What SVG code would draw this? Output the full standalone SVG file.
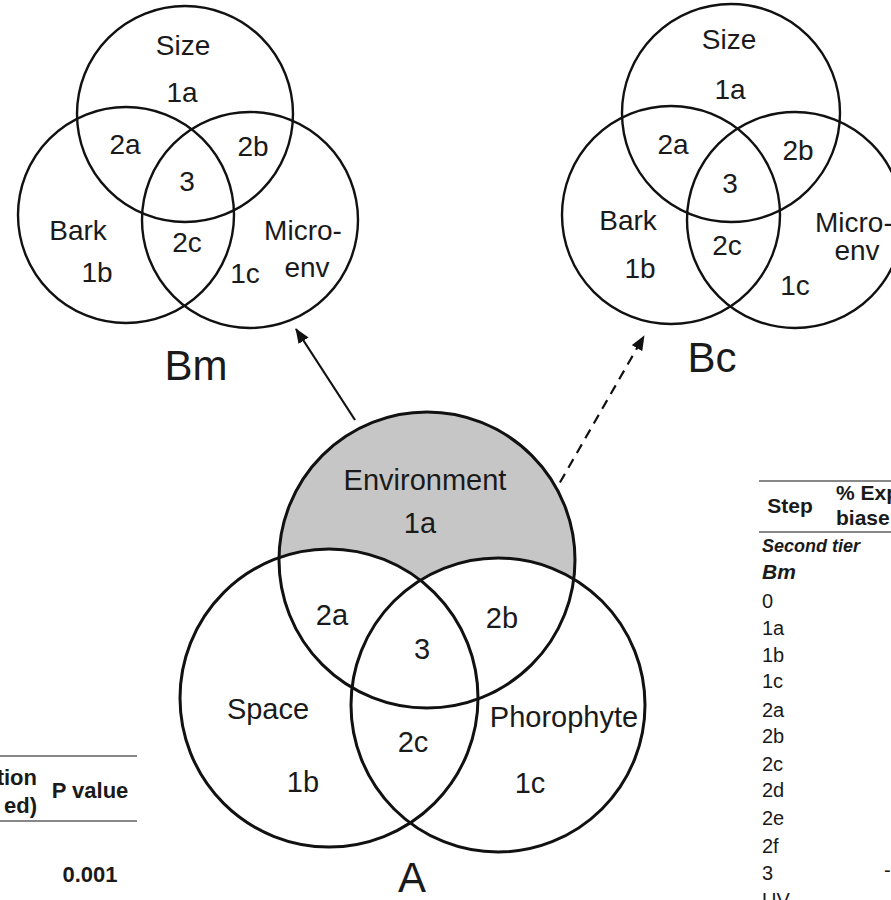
<svg xmlns="http://www.w3.org/2000/svg" width="891" height="900" viewBox="0 0 891 900">
<defs>
<style>
text{font-family:"Liberation Sans",Arial,sans-serif;fill:#1a1a1a}
.v{font-size:28px;text-anchor:middle}
.va{font-size:29px;text-anchor:middle}
.ring{fill:none;stroke:#111;stroke-width:2.4}
.ringA{fill:none;stroke:#111;stroke-width:3}
.big{font-size:42px;text-anchor:middle}
.th{font-size:22px;font-weight:bold}
.td{font-size:20px}
.rule{stroke:#888;stroke-width:2}
.conn{stroke:#111;stroke-width:2.2;fill:none}
</style>
<marker id="ah" markerUnits="userSpaceOnUse" markerWidth="16" markerHeight="12" refX="14" refY="6" orient="auto">
<path d="M0,0 L15,6 L0,12 z" fill="#111"/>
</marker>
</defs>

<g id="venn-Bm">
<circle class="ring" cx="185" cy="114" r="108"/>
<circle class="ring" cx="126" cy="215" r="108"/>
<circle class="ring" cx="250" cy="220" r="108"/>
<text class="v" x="183" y="55">Size</text>
<text class="v" x="182" y="102">1a</text>
<text class="v" x="125" y="154">2a</text>
<text class="v" x="253" y="156">2b</text>
<text class="v" x="187" y="191">3</text>
<text class="v" x="78" y="240">Bark</text>
<text class="v" x="187" y="252">2c</text>
<text class="v" x="97" y="282">1b</text>
<text class="v" x="245" y="283">1c</text>
<text class="v" x="303" y="240">Micro-</text>
<text class="v" x="307" y="277">env</text>
<text class="big" x="196" y="380">Bm</text>
</g>

<g id="venn-Bc">
<circle class="ring" cx="731" cy="113" r="109"/>
<circle class="ring" cx="671" cy="215" r="109"/>
<circle class="ring" cx="795" cy="220" r="108"/>
<text class="v" x="729" y="49">Size</text>
<text class="v" x="730" y="99">1a</text>
<text class="v" x="673" y="154">2a</text>
<text class="v" x="798" y="160">2b</text>
<text class="v" x="730" y="193">3</text>
<text class="v" x="628" y="230">Bark</text>
<text class="v" x="727" y="255">2c</text>
<text class="v" x="640" y="278">1b</text>
<text class="v" x="815" y="232" style="text-anchor:start">Micro-</text>
<text class="v" x="857" y="260">env</text>
<text class="v" x="795" y="295">1c</text>
<text class="big" x="712" y="372">Bc</text>
</g>

<g id="connectors">
<line class="conn" x1="355" y1="420" x2="296" y2="329" marker-end="url(#ah)"/>
<line class="conn" x1="543" y1="512" x2="644" y2="336" stroke-dasharray="10,7" marker-end="url(#ah)"/>
</g>

<g id="venn-A">
<circle cx="427" cy="560" r="148" fill="#c6c6c6"/>
<circle cx="329" cy="698" r="149" fill="#fff"/>
<circle cx="498" cy="705" r="147" fill="#fff"/>
<circle class="ringA" cx="427" cy="560" r="148"/>
<circle class="ringA" cx="329" cy="698" r="149"/>
<circle class="ringA" cx="498" cy="705" r="147"/>
<text class="va" x="425" y="490">Environment</text>
<text class="va" x="420" y="533">1a</text>
<text class="va" x="332" y="625">2a</text>
<text class="va" x="502" y="628">2b</text>
<text class="va" x="422" y="659">3</text>
<text class="va" x="268" y="719">Space</text>
<text class="va" x="564" y="727">Phorophyte</text>
<text class="va" x="413" y="752">2c</text>
<text class="va" x="303" y="792">1b</text>
<text class="va" x="530" y="793">1c</text>
<text class="big" x="412" y="892">A</text>
</g>

<g id="table-left">
<line class="rule" x1="0" y1="756" x2="137" y2="756"/>
<line class="rule" x1="0" y1="821" x2="137" y2="821"/>
<text class="th" x="37" y="785" text-anchor="end">tion</text>
<text class="th" x="37" y="813" text-anchor="end">ed)</text>
<text class="th" x="90" y="798" text-anchor="middle">P value</text>
<text class="th" x="90" y="882" text-anchor="middle">0.001</text>
</g>

<g id="table-right">
<line class="rule" x1="759" y1="481" x2="891" y2="481"/>
<line class="rule" x1="759" y1="532" x2="891" y2="532"/>
<text class="th" x="790" y="513" text-anchor="middle" style="font-size:21px">Step</text>
<text class="th" x="836" y="500" style="font-size:21px">% Exp</text>
<text class="th" x="836" y="525" style="font-size:21px">biase</text>
<text x="762" y="552" style="font-size:18px;font-weight:bold;font-style:italic">Second tier</text>
<text x="762" y="579" style="font-size:21px;font-weight:bold;font-style:italic">Bm</text>
<text class="td" x="762" y="608">0</text>
<text class="td" x="762" y="635">1a</text>
<text class="td" x="762" y="662">1b</text>
<text class="td" x="762" y="688">1c</text>
<text class="td" x="762" y="717">2a</text>
<text class="td" x="762" y="743">2b</text>
<text class="td" x="762" y="771">2c</text>
<text class="td" x="762" y="797">2d</text>
<text class="td" x="762" y="825">2e</text>
<text class="td" x="762" y="853">2f</text>
<text class="td" x="762" y="880">3</text>
<text class="td" x="884" y="877">-</text>
<text class="td" x="762" y="907">UV</text>
</g>
</svg>
